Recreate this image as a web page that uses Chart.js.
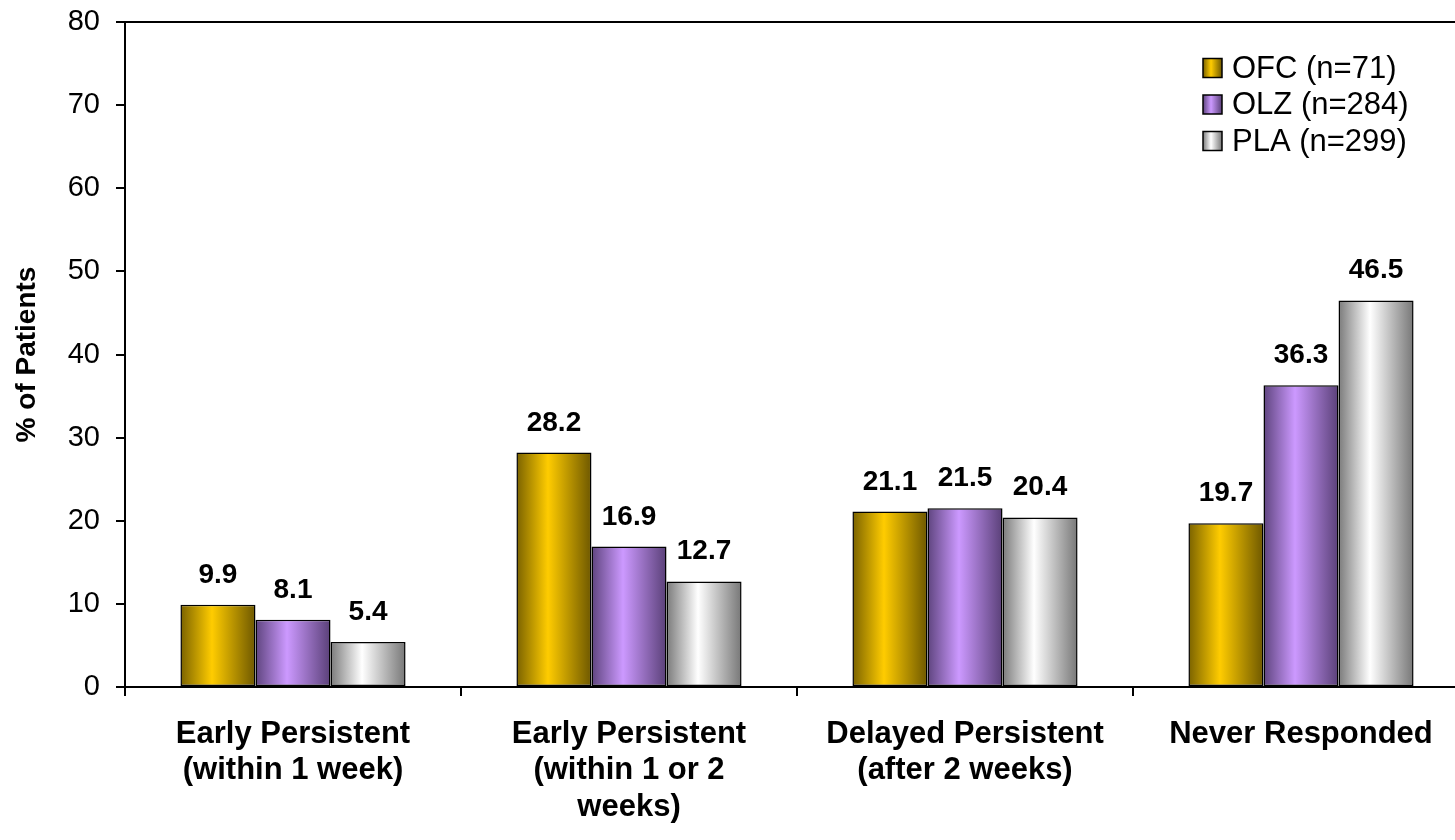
<!DOCTYPE html>
<html>
<head>
<meta charset="utf-8">
<script src="https://cdn.jsdelivr.net/npm/chart.js@4.4.1/dist/chart.umd.min.js"></script>
<style>
  html, body { margin: 0; padding: 0; background: #fff; overflow: hidden; }
  #wrap { width: 1470px; height: 840px; }
</style>
</head>
<body>
<div id="wrap"><canvas id="c" width="1470" height="840"></canvas></div>
<script>
const categories = [
  ["Early Persistent", "(within 1 week)"],
  ["Early Persistent", "(within 1 or 2", "weeks)"],
  ["Delayed Persistent", "(after 2 weeks)"],
  ["Never Responded"]
]
const ofcValues = [9.9, 28.2, 21.1, 19.7]
const olzValues = [8.1, 16.9, 21.5, 36.3]
const plaValues = [5.4, 12.7, 20.4, 46.5]
const seriesLabels = ["OFC (n=71)", "OLZ (n=284)", "PLA (n=299)"]
const yTicks = [0, 10, 20, 30, 40, 50, 60, 70, 80]

// 渐变色: 左边 / 中心 / 右边
const shades = [
  ["#7a6200", "#ffcc00", "#6e5800"],
  ["#5e447e", "#cc99ff", "#5a4078"],
  ["#7a7a7a", "#ffffff", "#777777"]
]

const CAT_PCT = 0.67
const FONT = "'Liberation Sans', Arial, sans-serif"

function gradientFor(ctx, x0, x1, s) {
  const g = ctx.createLinearGradient(x0, 0, x1, 0)
  g.addColorStop(0, s[0])
  g.addColorStop(0.42, s[1])
  g.addColorStop(1, s[2])
  return g
}

function barFill(context) {
  const chart = context.chart
  const s = shades[context.datasetIndex]
  const xs = chart.scales.x
  if (!chart.chartArea || !xs || context.dataIndex === undefined) return s[1]
  const catW = xs.width / categories.length
  const groupW = catW * CAT_PCT
  const barW = groupW / 3
  const center = xs.getPixelForValue(context.dataIndex)
  const left = center - groupW / 2 + context.datasetIndex * barW
  return gradientFor(chart.ctx, left, left + barW, s)
}

const labelPlugin = {
  id: "valueLabels",
  afterDatasetsDraw(chart) {
    const ctx = chart.ctx
    ctx.save()
    ctx.font = "bold 28px " + FONT
    ctx.fillStyle = "#000"
    ctx.textAlign = "center"
    ctx.textBaseline = "alphabetic"
    chart.data.datasets.forEach((ds, di) => {
      chart.getDatasetMeta(di).data.forEach((bar, i) => {
        ctx.fillText(ds.data[i].toFixed(1), bar.x, bar.y - 22)
      })
    })
    ctx.restore()
  }
}

const legendPlugin = {
  id: "boxLegend",
  afterDraw(chart) {
    const ctx = chart.ctx
    ctx.save()
    ctx.font = "31px " + FONT
    ctx.textBaseline = "middle"
    ctx.textAlign = "left"
    seriesLabels.forEach((label, i) => {
      const y = 68 + i * 36.5
      const bx = 1203, size = 19
      ctx.fillStyle = gradientFor(ctx, bx, bx + size, shades[i])
      ctx.fillRect(bx, y - size / 2, size, size)
      ctx.strokeStyle = "#000"
      ctx.lineWidth = 1.5
      ctx.strokeRect(bx, y - size / 2, size, size)
      ctx.fillStyle = "#000"
      ctx.fillText(label, 1232, y + 1)
    })
    ctx.restore()
  }
}

const makeSet = (label, data) => ({
  label: label,
  data: data,
  backgroundColor: barFill,
  borderColor: "#000",
  borderWidth: 1.5,
  borderSkipped: false,
  categoryPercentage: CAT_PCT,
  barPercentage: 1
})

new Chart(document.getElementById("c"), {
  type: "bar",
  data: {
    labels: categories,
    datasets: [
      makeSet(seriesLabels[0], ofcValues),
      makeSet(seriesLabels[1], olzValues),
      makeSet(seriesLabels[2], plaValues)
    ]
  },
  options: {
    responsive: false,
    animation: false,
    layout: { padding: { top: 22, right: 1, left: 0, bottom: 0 } },
    plugins: { legend: { display: false }, tooltip: { enabled: false } },
    scales: {
      x: {
        afterFit: (s) => { s.height = 153; s.paddingLeft = 0; s.paddingRight = 0 },
        border: { color: "#000", width: 2 },
        grid: { offset: true, drawOnChartArea: false, color: "#000", tickLength: 9, lineWidth: 2 },
        ticks: {
          color: "#000",
          font: { family: FONT, size: 31, weight: "bold", lineHeight: 1.18 },
          padding: 20,
          maxRotation: 0,
          autoSkip: false
        }
      },
      y: {
        min: 0,
        max: 80,
        afterFit: (s) => { s.width = 125; s.paddingTop = 0; s.paddingBottom = 0 },
        afterBuildTicks: (s) => { s.ticks = yTicks.map(v => ({ value: v })) },
        border: { color: "#000", width: 2 },
        grid: {
          color: (c) => (c.tick && c.tick.value === 80 ? "#000" : "rgba(0,0,0,0)"),
          tickColor: "#000",
          tickLength: 9,
          lineWidth: 2
        },
        ticks: {
          color: "#000",
          font: { family: FONT, size: 29 },
          padding: 16
        },
        title: {
          display: true,
          text: "% of Patients",
          color: "#000",
          font: { family: FONT, size: 28, weight: "bold" },
          padding: { top: 10, bottom: 0 }
        }
      }
    }
  },
  plugins: [labelPlugin, legendPlugin]
})
</script>
</body>
</html>
